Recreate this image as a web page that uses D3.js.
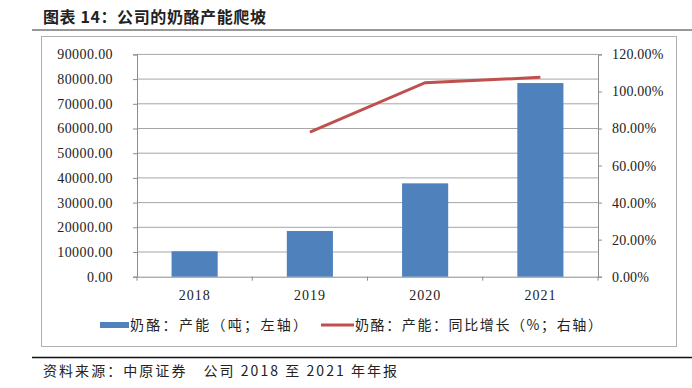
<!DOCTYPE html>
<html>
<head>
<meta charset="utf-8">
<script src="https://cdn.jsdelivr.net/npm/d3@7"></script>
<style>
  body { margin: 0; background: #fff; }
  text { font-family: "Liberation Serif", "Noto Sans CJK SC", serif; fill: #222; }
  .cjk { font-family: "Noto Sans CJK SC", sans-serif; }
</style>
</head>
<body>
<div id="chart"></div>
<script>
const years = ["2018", "2019", "2020", "2021"];
const capacity = [10300, 18500, 37800, 78400];
const growthYears = ["2019", "2020", "2021"];
const growth = [0.78, 1.047, 1.076];
const leftTicks = [0, 10000, 20000, 30000, 40000, 50000, 60000, 70000, 80000, 90000];
const rightTicks = [0, 0.2, 0.4, 0.6, 0.8, 1.0, 1.2];

const width = 692, height = 388;
const plot = { left: 137, right: 598, top: 54.4, bottom: 276.7 };
let svg;

const initSvg = () => {
  svg = d3.select("#chart").append("svg")
    .attr("width", width)
    .attr("height", height);
};

const drawFrame = () => {
  //title
  svg.append("text")
    .attr("class", "cjk")
    .attr("x", 43).attr("y", 23)
    .style("font-size", "16px")
    .style("font-weight", 700)
    .style("letter-spacing", "0.6px")
    .text("图表 14：公司的奶酪产能爬坡");
  svg.append("line")
    .attr("x1", 32).attr("x2", 692).attr("y1", 30).attr("y2", 30)
    .attr("stroke", "#333").attr("stroke-width", 1);
  //chart box
  svg.append("rect")
    .attr("x", 41.5).attr("y", 36.5).attr("width", 635).attr("height", 310)
    .attr("fill", "none").attr("stroke", "#b0b0b0").attr("stroke-width", 1);
  svg.append("line")
    .attr("x1", 32).attr("x2", 692).attr("y1", 357.5).attr("y2", 357.5)
    .attr("stroke", "#111").attr("stroke-width", 1.5);
  //source
  svg.append("text")
    .attr("class", "cjk")
    .attr("x", 43).attr("y", 376)
    .style("font-size", "14px")
    .style("letter-spacing", "2.05px")
    .text("资料来源：中原证券　公司 2018 至 2021 年年报");
};

const drawScales = () => {
  const xScale = d3.scaleBand().domain(years).range([plot.left, plot.right]).padding(0);
  const yScale = d3.scaleLinear().domain([0, 90000]).range([plot.bottom, plot.top]);
  const y2Scale = d3.scaleLinear().domain([0, 1.2]).range([plot.bottom, plot.top]);

  //gridlines
  svg.append("g")
    .selectAll("line")
    .data(leftTicks.slice(1))
    .enter().append("line")
    .attr("x1", plot.left).attr("x2", plot.right)
    .attr("y1", (d) => yScale(d)).attr("y2", (d) => yScale(d))
    .attr("stroke", "#a6a6a6").attr("stroke-width", 1);

  const left = svg.append("g")
    .attr("transform", `translate(${plot.left},0)`)
    .call(d3.axisLeft(yScale).tickValues(leftTicks).tickFormat(d3.format(".2f")).tickSizeOuter(0).tickSize(4).tickPadding(20));
  const right = svg.append("g")
    .attr("transform", `translate(${plot.right},0)`)
    .call(d3.axisRight(y2Scale).tickValues(rightTicks).tickFormat(d3.format(".2%")).tickSizeOuter(0).tickSize(4).tickPadding(10));
  const bottom = svg.append("g")
    .attr("transform", `translate(0,${plot.bottom})`)
    .call(d3.axisBottom(xScale).tickSize(0).tickPadding(13));
  //category separators on x axis
  svg.append("g")
    .selectAll("line")
    .data(years.concat(["end"]))
    .enter().append("line")
    .attr("x1", (d, i) => plot.left + i * xScale.step())
    .attr("x2", (d, i) => plot.left + i * xScale.step())
    .attr("y1", plot.bottom).attr("y2", plot.bottom + 4)
    .attr("stroke", "#8c8c8c");

  [left, right, bottom].forEach((g) => {
    g.selectAll("path").attr("stroke", "#8c8c8c");
    g.selectAll(".tick line").attr("stroke", "#8c8c8c");
    g.selectAll("text")
      .style("font-family", "'Liberation Serif', serif")
      .style("font-size", "14px")
      .style("letter-spacing", "0.4px")
      .attr("fill", "#222");
  });
  right.selectAll("text").style("letter-spacing", "0.2px");
  bottom.selectAll("text").style("letter-spacing", "1px");
  return { xScale, yScale, y2Scale };
};

const drawBars = (xScale, yScale) => {
  const bw = xScale.bandwidth();
  svg.append("g")
    .selectAll("rect")
    .data(years)
    .enter().append("rect")
    .attr("x", (d) => xScale(d) + bw * 0.3)
    .attr("width", bw * 0.4)
    .attr("y", (d, i) => yScale(capacity[i]))
    .attr("height", (d, i) => plot.bottom - yScale(capacity[i]))
    .attr("fill", "#4f81bd");
};

const drawLine = (xScale, y2Scale) => {
  const bw = xScale.bandwidth();
  const line = d3.line()
    .x((d) => xScale(d) + bw / 2)
    .y((d, i) => y2Scale(growth[i]));
  svg.append("path")
    .datum(growthYears)
    .attr("d", line)
    .attr("fill", "none")
    .attr("stroke", "#c0504d")
    .attr("stroke-width", 3);
};

const drawLegend = () => {
  const g = svg.append("g");
  g.append("rect")
    .attr("x", 100).attr("y", 322).attr("width", 29).attr("height", 6)
    .attr("fill", "#4f81bd");
  g.append("text")
    .attr("class", "cjk")
    .attr("x", 130).attr("y", 330)
    .style("font-size", "14px")
    .style("letter-spacing", "2.3px")
    .text("奶酪：产能（吨；左轴）");
  g.append("line")
    .attr("x1", 321).attr("x2", 354).attr("y1", 325).attr("y2", 325)
    .attr("stroke", "#c0504d").attr("stroke-width", 3);
  g.append("text")
    .attr("class", "cjk")
    .attr("x", 355).attr("y", 330)
    .style("font-size", "14px")
    .style("letter-spacing", "1.6px")
    .text("奶酪：产能：同比增长（%；右轴）");
};

initSvg();
drawFrame();
const { xScale, yScale, y2Scale } = drawScales();
drawBars(xScale, yScale);
drawLine(xScale, y2Scale);
drawLegend();
</script>
</body>
</html>
